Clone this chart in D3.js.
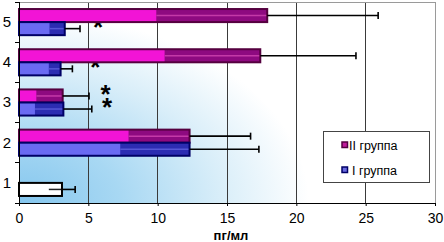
<!DOCTYPE html>
<html><head><meta charset="utf-8">
<script src="https://cdn.jsdelivr.net/npm/d3@7"></script>
<style>
html,body{margin:0;padding:0;background:#fff;}
svg{display:block;font-family:"Liberation Sans",Arial,sans-serif;}
</style></head>
<body>
<svg id="chart" width="444" height="242"></svg>
<script>
// ---- data ----
const categories = ["1", "2", "3", "4", "5"];
const seriesNames = ["II группа", "I группа"];
const group2 = [null, 12.3, 3.15, 17.4, 17.9];
const group2Err = [null, 4.4, 1.9, 6.9, 8.0];
const group1 = [3.1, 12.3, 3.2, 3.0, 3.3];
const group1Err = [0.95, 5.0, 2.05, 0.85, 1.1];
const xTicks = [0, 5, 10, 15, 20, 25, 30];
const xTitle = "пг/мл";
// asterisks: category, series index (0 = II, 1 = I), x position in data units
const starCats = ["5", "4", "3", "3"];
const starSeries = [1, 1, 0, 1];
const starX = [5.7, 5.5, 6.25, 6.35];

(function () {
// ---- styles ----
const styles = [
  {bright: "#f214d6", dark: "#8e0a80", stripe: "#c43aa8", border: "#55003f"},
  {bright: "#6a6af2", dark: "#2c2cb2", stripe: "#5656d6", border: "#000066"}
];
const controlStyle = {bright: "#ffffff", dark: "#ffffff", stripe: "#222", border: "#000000"};

const svg = d3.select("#chart");
const pL = 19, pR = 435, pT = 2, pB = 203;

const x = d3.scaleLinear().domain([0, 30]).range([pL, pR]);
const y = d3.scaleBand().domain(categories.slice().reverse()).range([pT, pB]).padding(0);
const bw = y.bandwidth();
const bh = bw * 0.325;

// background gradient
const defs = svg.append("defs");
const rg = defs.append("radialGradient").attr("id", "bg")
  .attr("gradientUnits", "userSpaceOnUse")
  .attr("cx", 0).attr("cy", 0).attr("r", 1)
  .attr("gradientTransform", `translate(${pL},${pB}) scale(290,190)`);
[[0, "#84c6ee"], [0.35, "#a8d8f3"], [0.7, "#d9eef9"], [1, "#ffffff"]]
  .forEach(([o, c]) => rg.append("stop").attr("offset", o).attr("stop-color", c));

svg.append("rect").attr("x", pL).attr("y", pT).attr("width", pR - pL).attr("height", pB - pT)
  .attr("fill", "url(#bg)");

// gridlines
svg.append("g").selectAll("line").data(xTicks.filter(t => t > 0 && t < 30)).join("line")
  .attr("x1", d => x(d)).attr("x2", d => x(d)).attr("y1", pT).attr("y2", pB)
  .attr("stroke", "#3a3a3a").attr("stroke-width", 1).attr("shape-rendering", "crispEdges");
// frame
svg.append("path").attr("d", `M${pL},${pT}H${pR}V${pB}`).attr("fill", "none")
  .attr("stroke", "#9a9a9a").attr("shape-rendering", "crispEdges");

const barTop = d => y(d.c) + bw / 2 - bh + d.s * bh;

// asterisks (drawn behind bars), one text per category
const stars = starCats.map((c, i) => ({c, s: starSeries[i], xv: starX[i]}));
const starGroups = d3.groups(stars, d => d.c);
const fs = 26;
svg.append("g").selectAll("text").data(starGroups).join("text")
  .attr("font-size", fs).attr("font-weight", "bold").attr("fill", "#000")
  .attr("font-family", "Liberation Sans, Arial, sans-serif")
  .attr("text-anchor", "middle")
  .each(function ([c, list]) {
    const t = d3.select(this);
    list.forEach(d => {
      t.append("tspan").attr("x", x(d.xv)).attr("y", barTop(d) - 1.5 + fs * 0.575).text("*");
    });
  });

// bars
const barData = [];
categories.forEach((c, i) => {
  if (group2[i] != null) barData.push({c, s: 0, v: group2[i], e: group2Err[i], st: styles[0]});
  if (group1[i] != null) barData.push({c, s: 1, v: group1[i], e: group1Err[i], st: i === 0 ? controlStyle : styles[1]});
});

const gb = svg.append("g");
barData.forEach(d => {
  const t = barTop(d), cy = t + bh / 2;
  const g = gb.append("g");
  g.append("rect").attr("x", x(0)).attr("y", t).attr("width", x(d.v) - x(0)).attr("height", bh)
    .attr("fill", d.st.bright);
  g.append("rect").attr("x", x(d.v - d.e)).attr("y", t).attr("width", x(d.v) - x(d.v - d.e)).attr("height", bh)
    .attr("fill", d.st.dark);
  g.append("line").attr("x1", x(d.v - d.e)).attr("x2", x(d.v)).attr("y1", cy).attr("y2", cy)
    .attr("stroke", d.st.stripe).attr("stroke-width", 1.5);
  g.append("rect").attr("x", x(0)).attr("y", t).attr("width", x(d.v) - x(0)).attr("height", bh)
    .attr("fill", "none").attr("stroke", d.st.border).attr("stroke-width", 2);
  // error bar
  g.append("line").attr("x1", x(d.v)).attr("x2", x(d.v + d.e)).attr("y1", cy).attr("y2", cy)
    .attr("stroke", "#000").attr("stroke-width", 1.6);
  g.append("line").attr("x1", x(d.v + d.e)).attr("x2", x(d.v + d.e)).attr("y1", cy - 3.5).attr("y2", cy + 3.5)
    .attr("stroke", "#000").attr("stroke-width", 1.6);
});

// y axis
const ya = svg.append("g").attr("transform", `translate(${pL},0)`)
  .call(d3.axisLeft(y).tickSize(0).tickPadding(8));
ya.select(".domain").remove();
ya.selectAll("text").attr("font-size", 15).attr("fill", "#000").attr("font-family", "Liberation Sans, Arial, sans-serif");
svg.append("line").attr("x1", pL).attr("x2", pL).attr("y1", pT).attr("y2", pB + 2)
  .attr("stroke", "#000").attr("shape-rendering", "crispEdges");
svg.append("g").selectAll("line").data(categories.map(c => y(c)).concat([pB])).join("line")
  .attr("x1", pL - 4).attr("x2", pL).attr("y1", d => d).attr("y2", d => d)
  .attr("stroke", "#000").attr("shape-rendering", "crispEdges");

// x axis
const xa = svg.append("g").attr("transform", `translate(0,${pB})`)
  .call(d3.axisBottom(x).tickValues(xTicks).tickSize(3).tickPadding(7).tickSizeOuter(0));
xa.select(".domain").attr("stroke", "#000");
xa.selectAll(".tick line").attr("stroke", "#000");
xa.selectAll("text").attr("font-size", 14).attr("fill", "#000").attr("font-family", "Liberation Sans, Arial, sans-serif");

svg.append("text").attr("x", 231).attr("y", 240).attr("text-anchor", "middle")
  .attr("font-size", 13).attr("font-weight", "bold").attr("fill", "#000").text(xTitle);

// legend
const lg = svg.append("g");
lg.append("rect").attr("x", 323.5).attr("y", 131.5).attr("width", 106).attr("height", 51)
  .attr("fill", "#fff").attr("stroke", "#444");
const legFill = ["#c01a9a", "#6a6ae0"];
seriesNames.forEach((n, i) => {
  const ly = 145 + i * 25;
  lg.append("rect").attr("x", 342).attr("y", ly - 3).attr("width", 5.5).attr("height", 5.5)
    .attr("fill", legFill[i]).attr("stroke", styles[i].border).attr("stroke-width", 1.5);
  lg.append("text").attr("x", i === 0 ? 349 : 352).attr("y", ly + 4.5).attr("font-size", 12.5)
    .attr("fill", "#000").text(n);
});
})();
</script>
</body></html>
